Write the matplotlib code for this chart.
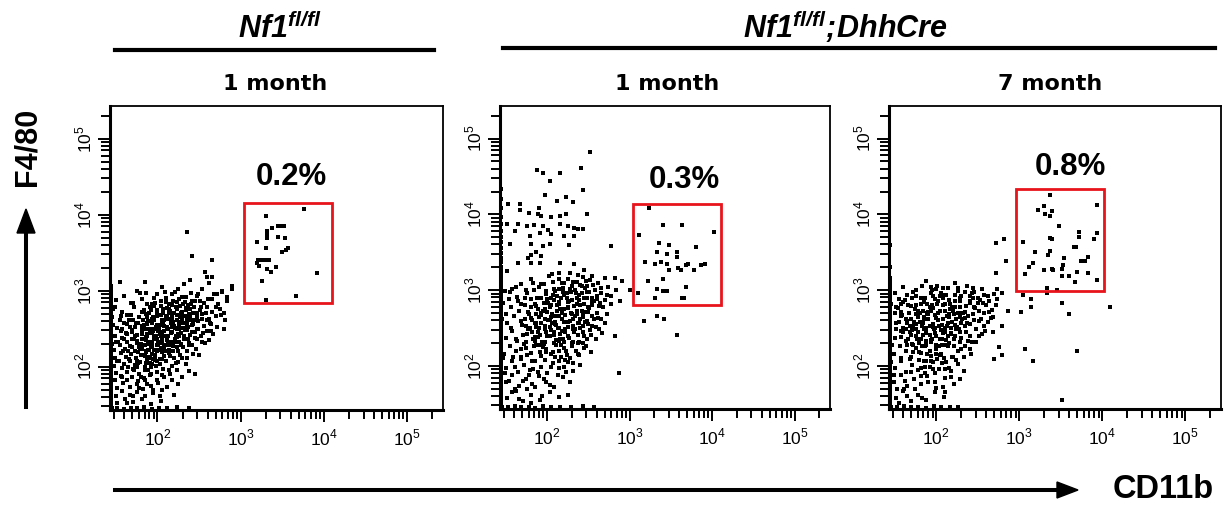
import matplotlib
matplotlib.use("Agg")
from matplotlib import pyplot as plt
from matplotlib.patches import Rectangle
import numpy as np

plt.rcParams['font.family'] = ['Liberation Sans', 'DejaVu Sans']
plt.rcParams['mathtext.fontset'] = 'custom'
plt.rcParams['mathtext.rm'] = 'Liberation Sans'
plt.rcParams['mathtext.sf'] = 'Liberation Sans:italic:bold'

# ---- data: events in log10(intensity) * 100, (CD11b, F4/80) ----
cloud1 = [
    (185,311),(206,305),(232,309),(254,302),(268,296),(247,293),(221,298),(199,296),(176,300),(160,293),(239,314),(262,310),(278,300),(289,306),
    (150,288),(168,284),(181,289),(193,282),(204,287),(214,283),(226,289),(237,281),(245,286),(256,284),(265,289),(273,283),(283,287),(230,292),(210,291),
    (147,276),(158,272),(172,279),(184,274),(191,278),(199,271),(207,276),(215,273),(222,279),(229,272),(236,277),(243,270),(251,275),(259,279),(266,272),(275,276),(196,280),(218,281),(240,282),
    (145,266),(155,262),(163,268),(171,261),(178,265),(186,269),(193,263),(199,267),(205,261),(211,266),(217,262),(223,268),(229,263),(234,267),(240,261),(247,265),(254,269),(262,263),(270,267),(281,262),(189,260),(214,270),(238,269),(226,259),
    (143,255),(151,251),(160,257),(167,252),(174,258),(181,253),(188,256),(194,250),(200,255),(206,259),(211,252),(216,257),(221,251),(226,254),(231,258),(237,252),(243,256),(249,250),(256,254),(263,258),(271,252),(198,252),(219,259),(208,254),(233,251),
    (142,245),(149,241),(156,247),(163,243),(170,248),(176,242),(182,246),(188,240),(193,245),(198,249),(203,243),(208,247),(213,241),(218,246),(223,250),(228,244),(233,248),(239,242),(245,246),(252,241),(259,247),(267,243),(196,241),(211,249),(226,241),(186,249),
    (143,236),(150,232),(157,238),(164,233),(170,237),(176,231),(181,236),(186,239),(191,233),(196,237),(201,231),(206,236),(211,239),(216,233),(221,237),(226,232),(232,236),(238,231),(245,238),(253,233),(189,230),(204,240),(219,230),(173,240),
    (142,226),(148,222),(155,228),(161,223),(167,227),(173,221),(179,225),(184,229),(189,222),(194,226),(199,220),(204,225),(209,229),(214,222),(219,227),(225,221),(231,226),(238,229),(246,223),(186,220),(201,229),(165,221),
    (143,216),(149,212),(156,218),(162,213),(168,217),(174,211),(180,215),(186,219),(191,212),(197,216),(203,210),(208,214),(214,218),(220,212),(227,216),(235,211),(243,217),(177,219),(195,210),
    (142,205),(148,201),(154,207),(160,203),(167,208),(173,202),(179,206),(185,200),(191,205),(197,209),(203,203),(210,207),(217,201),(225,206),(234,203),(165,200),(188,209),
    (143,196),(150,192),(157,198),(164,193),(171,197),(178,191),(185,195),(192,199),(199,193),(207,197),(215,191),(224,196),(238,194),(175,199),
    (142,186),(149,182),(156,188),(163,183),(170,187),(177,181),(184,185),(191,189),(199,183),(208,187),(218,182),(229,186),
    (143,176),(151,172),(159,178),(167,173),(175,177),(183,171),(192,175),(201,179),(212,173),(225,177),
    (142,166),(150,162),(158,168),(167,163),(176,167),(185,161),(195,165),(206,169),(220,163),
    (143,156),(152,152),(161,158),(171,153),(181,157),(192,151),(204,155),
    (145,145),(152,146),(160,144),(168,146),(176,145),(184,147),(193,144),(202,146),(212,145),(224,147),(238,145),
    (205,245),(212,238),(218,252),(225,243),(230,260),(236,248),(208,262),(215,270),(221,233),(199,236),(194,258),(187,243),(180,230),(173,252),(228,228),
    (241,255),(247,271),(253,263),(200,275),(224,276),(233,285),(210,285),(192,226),(185,214),(170,226),(177,205),(160,236),(158,250),(166,262),(239,266),
    (183,262),(190,271),(197,284),(204,268),(211,277),(219,286),(227,265),(234,274),(244,279),(251,287),(258,271),(264,256),(255,244),(248,236),
    (241,229),(236,221),(229,212),(222,205),(214,196),(206,189),(198,201),(190,213),(182,223),(176,234),(169,245),(163,256),(156,267),(149,279),
    (153,232),(159,220),(166,210),(172,196),(180,187),(187,177),(195,169),(203,161),(189,196),(196,222),(203,233),(209,221),(216,229),(223,239),
    (229,251),(236,262),(242,286),(249,296),(261,289),(270,279),(276,268),(264,247),(257,231),(250,215),(182,250),(188,258),(195,266),(201,247),
    (207,256),(213,263),(220,271),(227,280),(234,292),(213,230),(206,219),(199,208),(192,191),(185,182),(178,172),(171,162),(164,152),(157,186),
    (151,207),(146,230),(147,255),(171,284),(179,297),(225,302),(217,296),(240,297),(196,291),(186,297),(209,298),
    (236,377),(241,346),(266,341),(155,311),(257,324),(259,318),(266,318),(289,302),(277,298),(280,270),(280,250),(262,235),(245,190),(272,296),(283,292),
]
core1 = [
    (190,222),(194,231),(198,240),(202,249),(206,258),(210,267),(214,276),(218,232),(222,241),(226,250),(230,268),(234,277),(196,262),(200,271),
    (204,280),(208,226),(212,235),(216,244),(220,253),(224,262),(228,271),(232,240),(186,235),(184,255),(188,266),(192,275),(224,285),(228,230),
    (217,266),(213,249),(209,240),(205,231),(201,222),(197,213),(193,204),(189,250),(185,228),(181,243),(177,258),(181,272),(188,283),(195,247),
    (203,255),(211,229),(219,220),(227,258),(235,256),(239,276),(244,262),(248,249),(231,283),(223,226),(207,271),(199,229),(191,244),(183,215),
    (178,226),(172,236),(168,268),(162,244),(176,208),(186,205),(194,217),(205,210),(215,214),(237,237),(242,245),(249,260),(252,278),(259,262),
]
edge1 = [146,149,152,155,158,161,164,167,170,173,176,179,182,185,188,191,194,197,200,203,206,209,212,215,218,221,224,227,
         230,233,236,239,242,245,248,251,254,257,260,263,266,269,272,275,278,281,284,287,290,293,296,299,302,306]
gate1 = [
    (376,408),(330,398),(345,385),(349,385),(352,385),(338,382),(332,379),(332,376),(332,373),(332,369),
    (345,371),(353,369),(320,364),(330,356),(357,356),(355,354),(350,351),(321,341),(325,341),(329,341),
    (334,341),(320,336),(322,333),(342,331),(332,328),(336,325),(392,323),(325,313),(330,288),(366,293),
]

cloud2 = [
    (202,318),(214,322),(226,314),(238,320),(247,312),(255,318),(262,309),(270,316),(245,326),(230,305),(218,309),(208,302),(196,308),(184,300),
    (258,300),(266,296),(274,304),(251,297),(239,293),(224,296),(212,292),(199,295),(188,290),(176,296),(164,291),(155,298),(277,292),(283,300),
    (147,283),(156,277),(165,286),(173,280),(181,288),(189,275),(196,283),(203,278),(209,287),(215,281),(221,275),(227,285),(233,279),(239,287),
    (245,282),(251,276),(257,285),(263,279),(270,287),(278,281),(200,271),(217,290),(236,272),(248,289),(186,281),(224,289),(193,270),
    (145,262),(152,256),(160,266),(168,259),(175,252),(181,263),(187,257),(193,267),(198,252),(204,261),(210,255),(215,266),(221,258),(226,251),
    (231,262),(237,256),(243,268),(249,259),(255,253),(262,263),(270,257),(178,269),(206,269),(229,270),(213,250),(240,250),(190,250),
    (143,243),(150,237),(157,246),(164,233),(171,241),(177,248),(183,236),(189,244),(194,231),(200,239),(205,247),(211,234),(216,242),(222,249),
    (227,237),(233,245),(239,232),(245,240),(252,247),(259,236),(267,243),(186,233),(208,241),(230,230),(197,248),(219,236),
    (142,222),(148,216),(155,226),(162,219),(168,212),(175,224),(181,217),(187,228),(193,213),(199,222),(205,216),(211,227),(217,211),(223,220),
    (230,226),(237,215),(245,223),(253,218),(172,229),(196,229),(214,219),(159,211),
    (143,203),(150,197),(158,207),(165,192),(172,201),(179,195),(186,206),(193,198),(200,191),(207,204),(214,197),(222,208),(231,193),(240,201),(168,209),(189,192),
    (142,184),(150,178),(158,188),(166,173),(174,183),(182,176),(190,186),(199,179),(209,172),(219,185),(228,178),(161,170),
    (143,164),(152,157),(162,167),(171,154),(181,162),(191,155),(203,166),(214,159),(176,169),(225,162),
    (146,146),(153,145),(161,147),(169,145),(178,146),(186,144),(195,147),(205,145),(216,146),(229,145),(243,147),(257,146),
    (205,265),(212,272),(218,262),(225,276),(230,268),(236,281),(242,273),(210,258),(198,262),(222,244),(232,253),(240,262),(247,271),(215,250),
    (203,240),(226,284),(219,297),(234,300),(246,303),(254,290),(260,270),(200,288),(190,265),(182,245),(175,232),(195,225),(208,230),(221,232),
    (201,283),(207,293),(214,301),(221,309),(229,297),(236,289),(242,296),(249,306),(255,285),(261,292),(268,277),(273,268),(263,248),(257,262),
    (250,278),(244,264),(238,241),(231,248),(225,258),(218,270),(212,280),(206,256),(199,244),(193,257),(187,268),(180,278),(173,290),(166,272),
    (170,254),(176,242),(184,226),(191,218),(198,208),(205,199),(213,188),(220,198),(228,210),(235,220),(243,230),(250,255),(182,206),(176,214),
    (169,222),(162,236),(156,250),(150,268),(154,288),(162,304),(190,304),(215,315),(228,322),(240,307),(252,313),(265,303),(273,293),(236,311),
    (197,275),(185,256),(178,188),(171,180),(186,172),(196,183),(204,175),(210,211),(217,227),(224,214),(161,199),(154,180),(147,210),(149,190),
    (157,165),(166,156),(180,151),(194,160),(234,266),(209,245),(216,236),(189,238),(244,252),(254,266),
    (252,482),(188,459),(195,454),(216,454),(241,461),(204,444),(243,432),(197,425),(212,418),(223,423),(232,416),(153,413),(167,413),(190,409),
    (167,406),(178,402),(189,400),(193,398),(205,396),(216,398),(223,400),(248,400),(151,387),(165,387),(176,385),(184,386),(195,385),(201,379),
    (216,387),(225,385),(233,382),(237,380),(243,380),(161,378),(179,371),(191,376),(205,374),(221,371),(233,371),(155,361),(180,361),(195,358),
    (204,361),(227,360),(187,350),(181,346),(193,345),(177,343),(165,336),(191,336),(216,336),(233,334),(181,336),(151,325),(169,308),(180,314),
    (149,299),(157,301),(193,308),(206,321),
    (278,358),(282,316),(291,312),(289,286),(282,240),(287,190),(318,259),(333,266),(342,262),(357,241),(300,300),(310,296),
]
core2 = [
    (205,290),(210,299),(215,284),(220,293),(225,278),(230,287),(235,296),(240,280),(245,289),(250,271),(255,280),(260,288),(210,266),(216,275),
    (222,267),(228,259),(234,248),(239,257),(244,245),(249,236),(203,251),(208,242),(214,233),(220,224),(226,240),(232,232),(198,232),(192,241),
    (187,251),(182,261),(177,271),(195,272),(201,261),(199,299),(193,289),(187,279),(207,311),(219,303),(231,311),(243,317),(256,307),(264,283),
    (266,262),(259,251),(253,241),(247,226),(239,214),(231,204),(223,192),(215,207),(207,218),(199,218),(191,228),(185,238),(179,250),(173,262),
    (168,281),(175,300),(183,309),(211,254),(236,268),(242,306),(248,297),(228,302),(218,246),(205,280),(246,258),(238,230),(225,205),(183,196),
]
edge2 = [146,149,152,155,158,161,164,167,170,173,176,179,182,185,188,191,194,197,200,203,206,209,212,215,218,221,224,227,
         230,233,236,239,242,245,248,251,254,257,260,263,266,269,272,275,278,281,284,287,290,293,296,299,302,305,
         309,313,317,321,326,331,337,343,349,356,363,370,378,387,397,408,420,433]
gate2 = [
    (324,408),(312,373),(341,386),(364,386),(402,377),(336,362),(348,360),(380,357),(333,350),(345,348),(357,350),(357,344),
    (319,337),(331,335),(338,337),(345,335),(348,327),(359,329),(362,327),(369,333),(371,335),(378,327),(387,333),(391,335),
    (322,312),(341,314),(333,301),(340,299),(345,299),(369,304),(331,289),(364,289),(366,289),
]

cloud3 = [
    (160,304),(172,298),(183,306),(195,300),(206,296),(214,303),(226,299),(237,305),(246,297),(255,302),(150,296),(188,312),(222,309),(240,292),
    (258,294),(201,306),(176,292),(230,292),(165,293),(212,293),
    (146,282),(154,276),(162,287),(170,279),(178,273),(185,284),(192,277),(199,288),(205,272),(211,281),(217,275),(223,286),(229,278),(235,271),
    (241,283),(247,276),(253,287),(260,280),(267,274),(189,270),(208,289),(226,270),(158,271),(244,290),
    (144,262),(151,256),(158,266),(165,259),(172,252),(178,264),(184,257),(190,268),(196,251),(202,260),(207,254),(213,266),(219,258),(225,251),
    (231,262),(237,256),(244,268),(251,259),(258,253),(266,263),(175,269),(199,267),(221,269),(210,250),(188,250),
    (143,243),(150,237),(157,246),(164,233),(170,241),(176,248),(182,236),(188,244),(194,231),(200,239),(206,247),(212,234),(218,242),(224,249),
    (230,237),(236,245),(243,232),(251,240),(259,246),(179,230),(197,249),(215,230),(163,249),(228,231),
    (142,222),(149,216),(156,226),(163,219),(169,212),(176,224),(182,217),(188,228),(194,213),(200,222),(206,216),(212,227),(219,211),(226,220),
    (234,226),(242,215),(171,229),(192,220),(209,210),(157,210),
    (143,203),(150,197),(157,207),(164,192),(171,201),(178,195),(185,206),(192,198),(199,191),(207,204),(215,197),(224,208),(233,193),(168,209),(186,191),(201,209),
    (142,184),(149,178),(157,188),(165,173),(173,183),(181,176),(189,186),(198,179),(208,172),(218,185),(161,170),(229,183),
    (143,164),(151,157),(160,167),(169,154),(178,162),(188,155),(198,166),(209,159),(174,169),(155,151),
    (146,146),(153,145),(161,147),(169,145),(178,146),(187,144),(197,147),(206,145),(216,146),(226,145),
    (190,262),(196,255),(202,270),(208,262),(214,256),(185,248),(192,241),(199,250),(205,236),(211,245),(180,258),(175,240),(218,250),(224,262),
    (196,276),(184,272),(170,262),(188,233),(215,268),(201,282),(230,256),(160,250),(168,244),(222,240),
    (186,290),(193,296),(200,301),(208,280),(215,287),(222,294),(229,285),(236,279),(243,296),(250,283),(257,270),(263,285),(270,295),(272,280),
    (262,258),(255,242),(248,232),(240,222),(233,212),(226,202),(218,193),(210,184),(203,196),(196,205),(189,216),(183,226),(177,236),(171,247),
    (165,257),(159,267),(152,278),(155,288),(166,280),(174,275),(181,282),(167,270),(185,264),(193,272),(211,272),(219,278),(228,264),(234,252),
    (240,240),(221,226),(214,239),(207,228),(200,216),(193,206),(186,199),(179,208),(172,218),(165,228),(158,238),(151,248),(147,228),(146,205),
    (149,188),(153,170),(162,180),(170,192),(181,186),(190,178),(200,171),(211,165),(221,176),(183,158),(165,160),(232,270),(246,260),(252,272),
    (204,292),(176,300),(160,284),(238,266),(195,236),(227,249),(203,226),(212,205),(175,255),(184,241),
    (272,362),(281,367),(284,339),(272,322),(279,296),(304,294),(314,288),(314,277),(333,296),(352,283),(360,268),(409,277),(302,271),(286,273),
    (268,265),(279,252),(268,245),(275,225),(279,214),(269,209),(307,222),(316,207),(370,219),(351,155),(273,301),(273,288),
]
core3 = [
    (185,262),(190,271),(195,280),(200,263),(205,272),(210,281),(215,264),(220,273),(180,270),(187,243),(192,252),(198,243),(203,252),(208,243),
    (213,252),(218,243),(223,254),(183,252),(178,245),(173,258),(168,252),(163,262),(176,280),(182,290),(189,282),(196,292),(202,285),(209,293),
    (216,282),(223,278),(228,289),(234,297),(240,286),(245,278),(250,290),(256,283),(262,292),(230,270),(235,263),(240,255),(228,245),(221,235),
    (214,226),(207,235),(200,228),(193,234),(186,226),(179,218),(172,227),(166,236),(160,245),(155,258),(150,270),(157,282),(171,290),(194,304),
    (208,303),(226,303),(244,303),(204,214),(196,196),(188,206),(181,197),(211,196),(220,212),(230,222),(238,233),(248,248),(254,262),(264,271),
]
edge3 = [146,149,152,155,158,161,164,167,170,173,176,179,182,185,188,191,194,197,200,203,206,209,212,215,218,221,224,227,
         230,233,236,239,242,245,248,251,254,257,260,263,266,269,272,275,278,281,284,287,290,293,296,299,302,305,308,312,316,330,360]
gate3 = [
    (337,425),(393,412),(323,406),(330,411),(339,404),(331,400),(337,398),(348,385),(372,377),(372,370),(393,375),(390,367),(305,364),(337,369),
    (339,367),(366,357),(368,357),(337,352),(335,346),(319,350),(354,342),(383,344),(374,339),(379,339),(316,336),(312,331),(353,333),(330,326),
    (339,328),(340,326),(351,328),(307,321),(351,319),(360,319),(370,324),(383,322),(367,311),(393,313),(333,303),(345,300),
]

clouds = [cloud1 + core1 + gate1, cloud2 + core2 + gate2, cloud3 + core3 + gate3]
edges = [edge1, edge2, edge3]
gates = [(304, 284, 410, 416), (304, 280, 411, 413), (296, 299, 402, 433)]  # x0, y0, x1, y1
percents = ["0.2%", "0.3%", "0.8%"]
percent_pos = [(361, 450), (367, 445), (362, 463)]
ages = ["1 month", "1 month", "7 month"]

W, H = 1226, 508
fig = plt.figure(figsize=(W / 100, H / 100), dpi=100)

def fx(x):
    return x / W

def fy(y):
    return 1 - y / H

# panel frames in pixels: left, top, right, bottom
frames = [(110, 106, 443, 410), (500, 106, 830, 409), (889, 106, 1221, 409)]
age_x = [275, 667, 1050]

for i in range(3):
    l, t, r, b = frames[i]
    ax = fig.add_axes([fx(l), fy(b), (r - l) / W, (b - t) / H])
    pts = np.array(clouds[i]) / 100
    ax.scatter(pts[:, 0], pts[:, 1], s=5, marker='s', c='black', linewidths=0)
    ey = np.array(edges[i]) / 100
    ax.scatter(np.full(len(ey), 1.44), ey, s=9, marker='s', c='black', linewidths=0)
    x0, y0, x1, y1 = [v / 100 for v in gates[i]]
    ax.add_patch(Rectangle((x0, y0), x1 - x0, y1 - y0, fill=False, ec='#e8141c', lw=2.0, zorder=5))
    px, py = percent_pos[i]
    ax.text(px / 100, py / 100, percents[i], ha='center', va='center', fontsize=22.5, fontweight='bold')
    ax.set_xlim(1.43, 5.43)
    ax.set_ylim(1.43, 5.43)
    major = [2, 3, 4, 5]
    minor = [np.log10(k * 10.0 ** d) for d in range(1, 6) for k in range(2, 10)]
    minor = [m for m in minor if 1.45 < m < 5.42]
    labels = [r'$10^{%d}$' % d for d in major]
    ax.set_xticks(major)
    ax.set_xticklabels(labels, fontsize=12.5)
    ax.set_yticks(major)
    ax.set_yticklabels(labels, fontsize=12.5, rotation=90, va='center')
    ax.set_xticks(minor, minor=True)
    ax.set_yticks(minor, minor=True)
    ax.tick_params(which='major', direction='out', length=8.5, width=1.4)
    ax.tick_params(which='minor', direction='out', length=6.5, width=1.4)
    ax.tick_params(axis='x', which='major', pad=4)
    ax.tick_params(axis='y', which='major', pad=3)
    for s in ['top', 'right']:
        ax.spines[s].set_linewidth(1.3)
    for s in ['left', 'bottom']:
        ax.spines[s].set_linewidth(2.2)
    fig.text(fx(age_x[i]), fy(84), ages[i], ha='center', va='center', fontsize=16,
             fontweight='bold', family='DejaVu Sans')

# genotype headers
fig.text(fx(280), fy(38), r'$\mathsf{Nf1}^{\mathsf{fl/fl}}$', ha='center', va='baseline', fontsize=22)
fig.text(fx(845), fy(38), r'$\mathsf{Nf1}^{\mathsf{fl/fl}}\mathsf{;}\!\mathsf{DhhCre}$', ha='center', va='baseline', fontsize=22)
fig.add_artist(plt.Line2D([fx(115), fx(434)], [fy(50), fy(50)], color='black', lw=3))
fig.add_artist(plt.Line2D([fx(503), fx(1215)], [fy(48), fy(48)], color='black', lw=3))

# axis arrows
fig.text(fx(27), fy(147), 'F4/80', rotation=90, ha='center', va='center', fontsize=22, fontweight='bold')
fig.add_artist(plt.Line2D([fx(26), fx(26)], [fy(407), fy(230)], color='black', lw=2.9))
fig.patches.append(plt.Polygon([[fx(17), fy(233)], [fx(35), fy(233)], [fx(26), fy(209)]],
                               closed=True, color='black', transform=fig.transFigure, figure=fig))
fig.add_artist(plt.Line2D([fx(115), fx(1060)], [fy(490), fy(490)], color='black', lw=2.9))
fig.patches.append(plt.Polygon([[fx(1057), fy(482)], [fx(1057), fy(498)], [fx(1078), fy(490)]],
                               closed=True, color='black', transform=fig.transFigure, figure=fig))
fig.text(fx(1163), fy(490), 'CD11b', ha='center', va='center', fontsize=23.5, fontweight='bold')

plt.savefig("out.png", dpi=100)
